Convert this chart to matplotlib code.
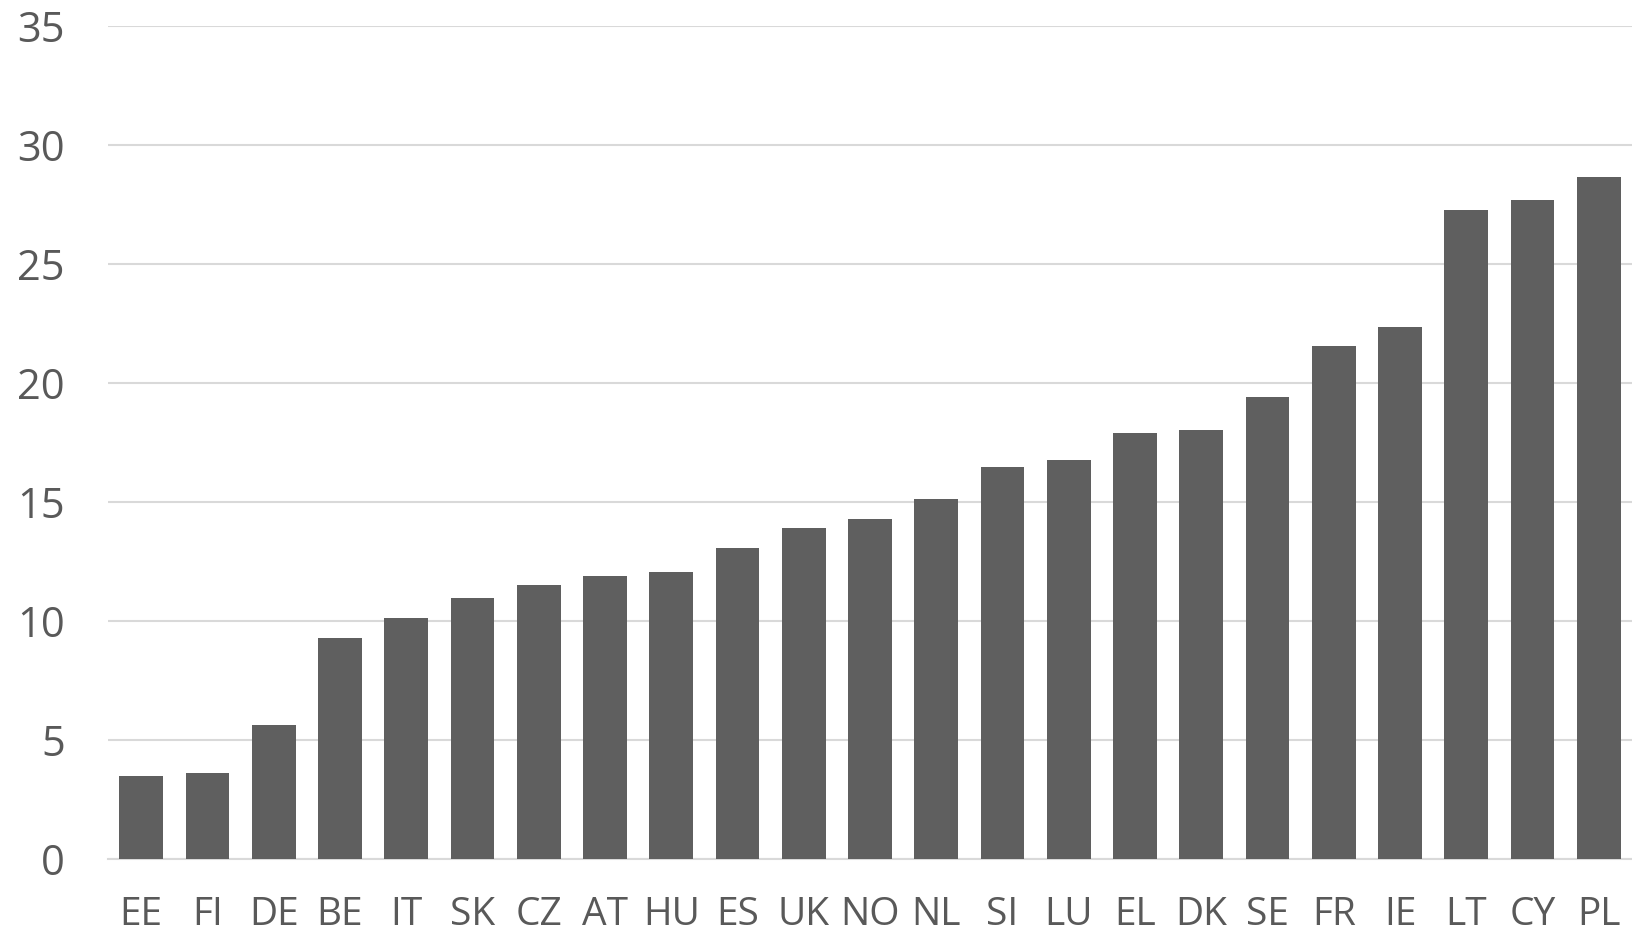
import matplotlib
matplotlib.use('Agg')
from matplotlib import pyplot as plt
import numpy as np

# Countries and values, sorted ascending
countries = ['EE', 'FI', 'DE', 'BE', 'IT', 'SK', 'CZ', 'AT', 'HU', 'ES', 'UK', 'NO',
             'NL', 'SI', 'LU', 'EL', 'DK', 'SE', 'FR', 'IE', 'LT', 'CY', 'PL']
values = [3.50, 3.60, 5.61, 9.28, 10.12, 10.95, 11.49, 11.90, 12.05, 13.06, 13.89, 14.27,
          15.12, 16.48, 16.75, 17.88, 18.00, 19.42, 21.56, 22.33, 27.24, 27.69, 28.66]
yticks = [0, 5, 10, 15, 20, 25, 30, 35]

plt.rcParams['font.family'] = ['Open Sans', 'DejaVu Sans']

fig = plt.figure(figsize=(16.32, 9.39), dpi=100)
ax = fig.add_axes([0.0662, 0.0852, 0.9338, 0.8874])

x = np.arange(len(countries))
ax.bar(x, values, width=0.66, color='#5f5f5f', zorder=3)

ax.set_xlim(-0.5, len(countries) - 0.5)
ax.set_ylim(0, 35)
ax.set_yticks(yticks)
ax.set_xticks(x)
ax.set_xticklabels(countries)

# light horizontal grid, no frame
ax.yaxis.grid(True, color='#d9d9d9', linewidth=1.5, zorder=0)
ax.xaxis.grid(False)
for s in ['top', 'right', 'left']:
    ax.spines[s].set_visible(False)
ax.spines['bottom'].set_color('#d9d9d9')
ax.spines['bottom'].set_linewidth(1.5)

ax.tick_params(axis='y', length=0, pad=31, labelsize=30, labelcolor='#595959')
ax.tick_params(axis='x', length=0, pad=27, labelsize=28, labelcolor='#595959')

plt.savefig('out.png', dpi=100, facecolor='white')
